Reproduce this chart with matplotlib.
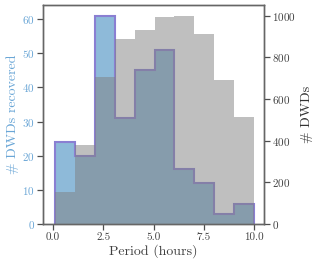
import numpy as np
import matplotlib
matplotlib.use("Agg")
import matplotlib.pyplot as plt

# -----------------------------
# DATA
# -----------------------------
bin_edges = np.linspace(0.1, 10.0, 11)
n_recovered = [24, 20, 61, 31, 45, 51, 16, 12, 3, 6]
n_total = [155, 381, 705, 889, 933, 993, 1000, 912, 689, 513]

BLUE_TXT = "#6aa6d6"
OUTLINE = "#8a7fd2"

plt.rcParams["font.family"] = "serif"
plt.rcParams["font.serif"] = ["cmr10", "DejaVu Serif"]
plt.rcParams["mathtext.fontset"] = "cm"
plt.rcParams["axes.formatter.use_mathtext"] = True
plt.rcParams["axes.unicode_minus"] = False

fig = plt.figure(figsize=(3.19, 2.69), dpi=100)
ax1 = fig.add_axes([0.135, 0.167, 0.693, 0.814])
ax2 = ax1.twinx()

# recovered (left axis), outlined
ax1.stairs(n_recovered, bin_edges, fill=True, color="tab:blue", alpha=0.5, lw=0)
ax1.stairs(n_recovered, bin_edges, fill=False, color=OUTLINE, lw=1.5)
# all DWDs (right axis), drawn over the recovered ones
ax2.stairs(n_total, bin_edges, fill=True, color="grey", alpha=0.5, lw=0)

ax1.set_xlim(-0.5, 10.5)
ax1.set_ylim(0, max(n_recovered) * 1.05)
ax2.set_ylim(0, max(n_total) * 1.05)
ax1.set_xticks([0, 2.5, 5, 7.5, 10])
ax1.set_xticklabels(["0.0", "2.5", "5.0", "7.5", "10.0"])
ax1.set_yticks(range(0, 61, 10))
ax2.set_yticks(range(0, 1001, 200))

for ax in (ax1, ax2):
    for s in ax.spines.values():
        s.set_color("0.4")
        s.set_linewidth(1.0)
    ax.tick_params(length=4, width=0.9, color="0.3", labelsize=8, pad=2,
                   labelcolor="0.25")

ax1.tick_params(axis="y", labelcolor=BLUE_TXT)
ax1.set_xlabel("Period (hours)", fontsize=10, color="0.25", labelpad=2)
ax1.set_ylabel("# DWDs recovered", fontsize=10, color=BLUE_TXT, labelpad=2)
ax2.set_ylabel("# DWDs", fontsize=10, color="0.2", labelpad=3)

fig.savefig("out.png", dpi=100)
